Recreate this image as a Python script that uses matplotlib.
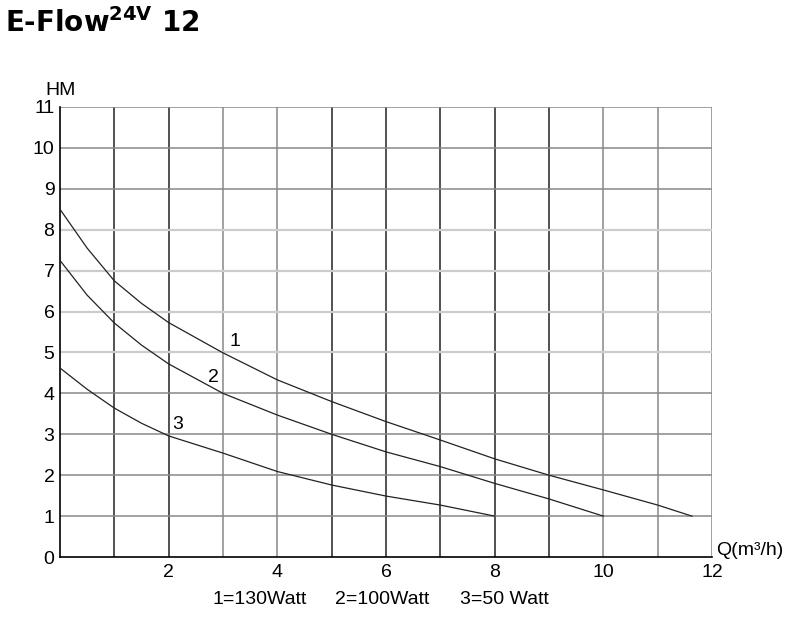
import numpy as np
import matplotlib
matplotlib.use("Agg")
import matplotlib.pyplot as plt

# pump curves (Q in m3/h, H in m)
q1 = [0, 0.5, 1, 1.5, 2, 3, 4, 5, 6, 7, 8, 9, 10, 11, 11.63]
h1 = [8.5, 7.55, 6.75, 6.2, 5.73, 4.99, 4.33, 3.8, 3.31, 2.86, 2.4, 2.0, 1.64, 1.27, 1.0]
q2 = [0, 0.5, 1, 1.5, 2, 3, 4, 5, 6, 7, 8, 9, 10]
h2 = [7.25, 6.4, 5.72, 5.18, 4.72, 4.0, 3.47, 3.0, 2.57, 2.21, 1.8, 1.42, 1.0]
q3 = [0, 0.5, 1, 1.5, 2, 3, 4, 5, 6, 7, 8]
h3 = [4.62, 4.1, 3.64, 3.27, 2.96, 2.54, 2.09, 1.76, 1.49, 1.27, 1.0]

curve_labels = ["1", "2", "3"]
label_pos = [(3.22, 5.26), (2.82, 4.38), (2.17, 3.23)]
legend_items = ["1=130Watt", "2=100Watt", "3=50 Watt"]
legend_x = [0.266, 0.419, 0.575]

xticks = [2, 4, 6, 8, 10, 12]
yticks = list(range(0, 12))
dark_v = [1, 2, 5, 6, 7, 8, 9]
grey_v = [3, 4, 10, 11, 12]
dark_h = [1, 2, 3, 4, 9, 10, 11]
light_h = [5, 6, 7, 8]

plt.rcParams['font.family'] = ['Liberation Sans', 'DejaVu Sans']
fs = 14

fig = plt.figure(figsize=(8, 6.17), dpi=100)
ax = fig.add_axes([0.075, 0.0972, 0.815, 0.7294])

for v in dark_v:
    ax.axvline(v, color='#222222', lw=1.1, zorder=1)
for v in grey_v:
    ax.axvline(v, color='#888888', lw=1.1, zorder=1)
for h in dark_h:
    ax.axhline(h, color='#888888', lw=1.1, zorder=1)
for h in light_h:
    ax.axhline(h, color='#cccccc', lw=1.6, zorder=1)

for q, h in [(q1, h1), (q2, h2), (q3, h3)]:
    ax.plot(q, h, color='#222222', lw=0.9, zorder=3)

for lab, (x, y) in zip(curve_labels, label_pos):
    ax.text(x, y, lab, fontsize=fs, ha='center', va='center')

ax.set_xlim(0, 12)
ax.set_ylim(0, 11)
ax.set_xticks(xticks)
ax.set_yticks(yticks)
ax.tick_params(length=0, labelsize=fs, pad=5)
ax.tick_params(axis='y', pad=4)
for s in ['top', 'right']:
    ax.spines[s].set_visible(False)
for s in ['left', 'bottom']:
    ax.spines[s].set_color('black')
    ax.spines[s].set_linewidth(1.2)

ax.text(-0.26, 11.2, "HM", fontsize=fs, ha='left', va='bottom', clip_on=False)
ax.text(12.08, 0.15, "Q(m³/h)", fontsize=fs, ha='left', va='center', clip_on=False)

for txt, x in zip(legend_items, legend_x):
    fig.text(x, 0.028, txt, fontsize=fs, ha='left', va='center')

fig.text(0.006, 0.963, r"E-Flow$^{\mathbf{24V}}$ 12", fontsize=20, fontweight='bold',
         family='DejaVu Sans', ha='left', va='center')

fig.savefig("out.png", dpi=100)
